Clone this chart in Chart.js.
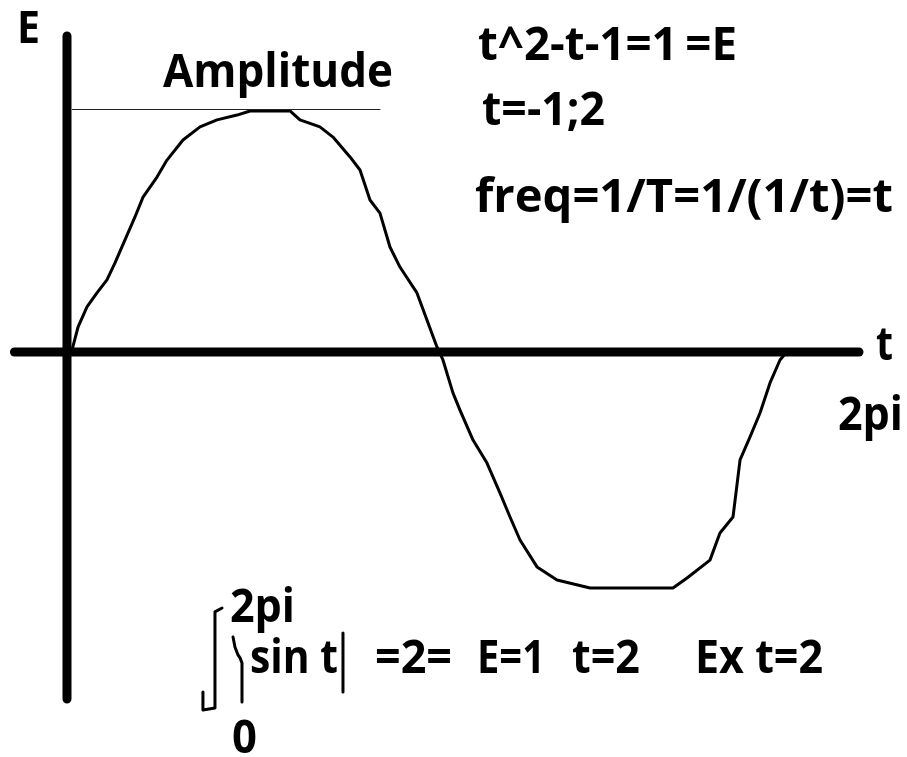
<!DOCTYPE html>
<html lang="en">
<head>
  <meta charset="UTF-8">
  <title>Sine wave sketch</title>
  <script src="https://cdn.jsdelivr.net/npm/chart.js"></script>
  <style>
    html, body {
      margin: 0;
      padding: 0;
      background: #fff;
    }
    canvas {
      display: block;
    }
  </style>
</head>
<body>

<canvas id="myChart" width="907" height="757"></canvas>

<script>
// hand drawn wave (t in radians, E in amplitude units)
const waveT = [0, 0.044, 0.097, 0.176, 0.264, 0.352, 0.423, 0.511, 0.599, 0.670, 0.793, 0.881, 1.022, 1.172,
  1.322, 1.498, 1.613, 1.965, 2.053, 2.229, 2.344, 2.494, 2.582, 2.670, 2.758, 2.846, 2.934, 3.084, 3.172,
  3.260, 3.313, 3.401, 3.463, 3.578, 3.701, 3.816, 3.904, 3.992, 4.142, 4.318, 4.609, 5.340, 5.464, 5.666,
  5.754, 5.869, 5.931, 6.019, 6.107, 6.195, 6.283, 6.327];
const waveE = [0, 0.008, 0.103, 0.186, 0.244, 0.298, 0.368, 0.463, 0.558, 0.640, 0.723, 0.793, 0.876, 0.930,
  0.959, 0.979, 0.996, 0.996, 0.959, 0.930, 0.888, 0.806, 0.752, 0.628, 0.574, 0.434, 0.351, 0.244, 0.132,
  0.021, -0.033, -0.169, -0.240, -0.364, -0.459, -0.583, -0.682, -0.777, -0.888, -0.942, -0.975, -0.975, -0.934,
  -0.860, -0.748, -0.682, -0.446, -0.351, -0.252, -0.128, -0.033, -0.008];

// the two axes
const tAxisT = [-0.463, 6.979];
const tAxisE = [0, 0];
const eAxisT = [0, 0];
const eAxisE = [1.306, -1.434];

// amplitude guide line
const ampT = [0.044, 2.758];
const ampE = [1.002, 1.002];

// integral sign and the |sin t| bars
const integralT = [1.198, 1.198, 1.304, 1.304, 1.366];
const integralE = [-1.405, -1.479, -1.471, -1.074, -1.058];
const barLeftT = [1.463, 1.480, 1.507, 1.525, 1.542, 1.542];
const barLeftE = [-1.178, -1.219, -1.252, -1.264, -1.285, -1.446];
const barRightT = [2.432, 2.432];
const barRightE = [-1.161, -1.405];

// written notes
const noteTexts = ['E', 'Amplitude', 't^2-t-1=1\u2009=E', 't=-1;2', 'freq=1/T=1/(1/t)=t', 't', '2pi',
  '2pi', 'sin t', '=2=', 'E=1', 't=2', 'Ex t=2', '0'];
// [t, E, width in t] for each note, left end of the baseline
const notePlaces = [
  [-0.441, 1.277, 0.203], [0.846, 1.095, 2.027], [3.622, 1.207, 2.282], [3.657, 0.938, 1.084],
  [3.595, 0.579, 3.684], [7.129, -0.033, 0.150], [6.794, -0.322, 0.573],
  [1.436, -1.116, 0.573], [1.613, -1.326, 0.775], [2.714, -1.326, 0.679], [3.613, -1.326, 0.599],
  [4.450, -1.326, 0.599], [5.534, -1.326, 1.128], [1.454, -1.657, 0.220]
];

function pts(xs, ys) {
  return xs.map((x, i) => ({ x: x, y: ys[i] }));
}

function stroke(xs, ys, width, color) {
  return {
    data: pts(xs, ys),
    showLine: true,
    pointRadius: 0,
    borderColor: color || '#000',
    borderWidth: width,
    borderCapStyle: 'round',
    borderJoinStyle: 'round',
    tension: 0,
    fill: false
  };
}

const notesPlugin = {
  id: 'notes',
  afterDatasetsDraw(chart) {
    const ctx = chart.ctx;
    const xs = chart.scales.x;
    const ys = chart.scales.y;
    ctx.save();
    ctx.fillStyle = '#000';
    ctx.textBaseline = 'alphabetic';
    noteTexts.forEach((text, i) => {
      const p = notePlaces[i];
      const x = xs.getPixelForValue(p[0]);
      const y = ys.getPixelForValue(p[1]);
      const w = xs.getPixelForValue(p[0] + p[2]) - x;
      ctx.font = 'bold ' + (i === 0 ? 44 : 46) + 'px "Open Sans"';
      const m = ctx.measureText(text).width;
      ctx.save();
      ctx.translate(x, y);
      ctx.scale(w / m, 1);
      ctx.fillText(text, 0, 0);
      ctx.restore();
    });
    ctx.restore();
  }
};

const config = {
  type: 'scatter',
  data: {
    datasets: [
      stroke(tAxisT, tAxisE, 9),
      stroke(eAxisT, eAxisE, 9),
      stroke(ampT, ampE, 1, '#222'),
      stroke(waveT, waveE, 3),
      stroke(integralT, integralE, 3),
      stroke(barLeftT, barLeftE, 3),
      stroke(barRightT, barRightE, 3)
    ]
  },
  options: {
    responsive: false,
    animation: false,
    events: [],
    layout: { padding: 0 },
    scales: {
      x: { type: 'linear', min: -0.5904, max: 7.4022, display: false },
      y: { type: 'linear', min: -1.6736, max: 1.4545, display: false }
    },
    plugins: {
      legend: { display: false },
      tooltip: { enabled: false }
    }
  },
  plugins: [notesPlugin]
};

const ctx = document.getElementById('myChart').getContext('2d');
new Chart(ctx, config);
</script>

</body>
</html>
